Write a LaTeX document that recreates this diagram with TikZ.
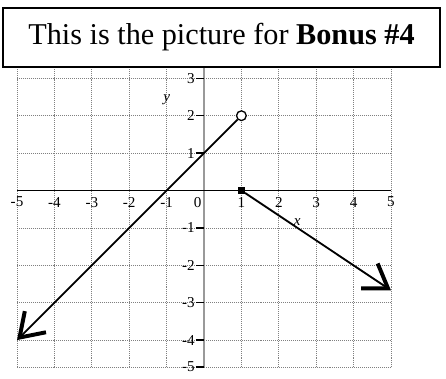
\documentclass[tikz,border=0pt]{standalone}
\usepackage{fontspec}
\setmainfont{Liberation Serif}
\usetikzlibrary{arrows.meta,positioning}

\begin{document}
\begin{tikzpicture}[
  gridline/.style={gray, densely dotted, line width=0.5pt},
  xaxis/.style={black, line width=1pt},
  yaxis/.style={gray!80, line width=1.3pt},
  tickmark/.style={black, line width=1pt},
  lbl/.style={font=\fontsize{11.5}{13}\selectfont, inner sep=0pt},
  graph/.style={line width=1.4pt},
  arr/.style={-{Straight Barb[length=6mm, width=8mm, line width=3pt]}, line width=1.4pt},
  titlebox/.style={draw, line width=1pt, fill=white, minimum width=11.68cm, minimum height=1.58cm, font=\fontsize{23}{27}\selectfont},
  hole/.style={circle, draw, line width=1pt, fill=white, minimum size=0.26cm, inner sep=0pt},
  dot/.style={rectangle, fill=black, minimum size=0.18cm, inner sep=0pt}
]
\useasboundingbox (-5.455,-5.04) rectangle (6.471,5.094);

% grid (bottom row is squeezed, as in the scan)
\foreach \i in {-5,...,5} \draw[gridline] (\i,-4.72) -- (\i,3.5);
\foreach \j in {-4,...,3} \draw[gridline] (-5,\j) -- (5,\j);
\draw[gridline] (-5,-4.72) -- (5,-4.72);

% axes
\draw[yaxis] (0,-4.72) -- (0,3.5);
\draw[xaxis] (-5,0) -- (5,0);

% tick labels
\foreach \i in {-5,-4,-3,-2,-1,1,2,3,4,5}
  \node[lbl] (x\i) at (\i,-0.31) {\i};
\node[lbl] (x0) at (-0.17,-0.31) {0};
\foreach \j in {-4,-3,-2,-1,1,2,3} {
  \draw[tickmark] (-0.22,\j) -- (0,\j);
  \node[lbl, anchor=east] (y\j) at (-0.24,\j) {\j};
}
\draw[tickmark] (-0.22,-4.72) -- (0,-4.72);
\node[lbl, anchor=east] (y-5) at (-0.24,-4.72) {-5};
\node[lbl, font=\fontsize{11.5}{13}\selectfont\itshape] (ylab) at (-1.0,2.42) {y};
\node[lbl, font=\fontsize{11.5}{13}\selectfont\itshape] (xlab) at (2.49,-0.83) {x};

% graph pieces
\coordinate (lefttip) at (-5,-4);
\coordinate (righttip) at (5,-2.67);
\node[hole] (open) at (1,2) {};
\node[dot] (closed) at (1,0) {};
\draw[arr] (open) -- (lefttip);
\draw[arr] (closed) -- (righttip);

% title
\node[titlebox] (title) at (0.468,4.09) {This is the picture for \textbf{Bonus \#4}};

\end{tikzpicture}
\end{document}
